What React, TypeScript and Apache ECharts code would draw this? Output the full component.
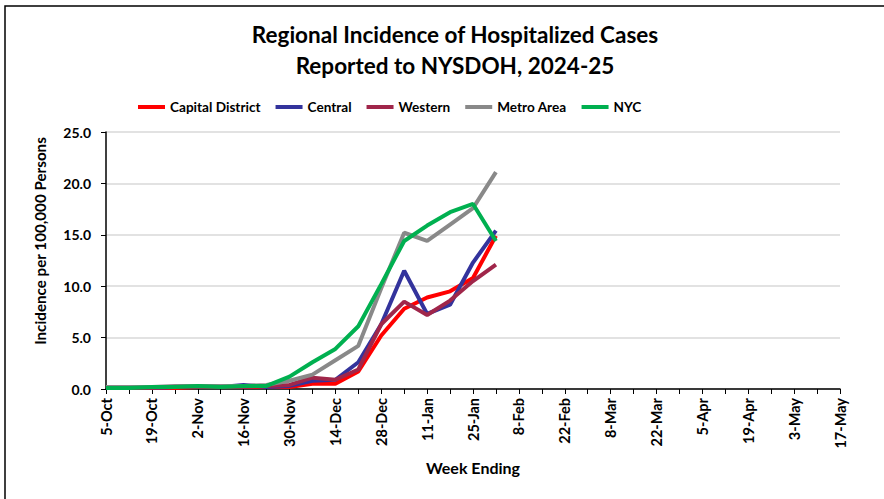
import React, { useEffect, useRef } from "react";
import * as echarts from "echarts";

const weekLabels = [
  "5-Oct", "12-Oct", "19-Oct", "26-Oct", "2-Nov", "9-Nov", "16-Nov", "23-Nov",
  "30-Nov", "7-Dec", "14-Dec", "21-Dec", "28-Dec", "4-Jan", "11-Jan", "18-Jan",
  "25-Jan", "1-Feb", "8-Feb", "15-Feb", "22-Feb", "1-Mar", "8-Mar", "15-Mar",
  "22-Mar", "29-Mar", "5-Apr", "12-Apr", "19-Apr", "26-Apr", "3-May", "10-May", "17-May",
];

const capitalDistrict = [0.1, 0.1, 0.1, 0.1, 0.2, 0.2, 0.2, 0.2, 0.2, 0.5, 0.5, 1.7, 5.2, 7.8, 8.9, 9.5, 10.8, 14.9];
const central = [0.1, 0.1, 0.1, 0.2, 0.2, 0.2, 0.4, 0.2, 0.3, 0.8, 0.9, 2.6, 6.3, 11.5, 7.3, 8.2, 12.3, 15.4];
const western = [0.1, 0.1, 0.1, 0.2, 0.2, 0.2, 0.2, 0.3, 0.4, 1.1, 0.9, 1.9, 6.3, 8.5, 7.2, 8.6, 10.5, 12.1];
const metroArea = [0.2, 0.2, 0.2, 0.3, 0.3, 0.3, 0.3, 0.4, 0.8, 1.4, 2.8, 4.2, 9.8, 15.2, 14.4, 16.0, 17.6, 21.1];
const nyc = [0.1, 0.1, 0.2, 0.2, 0.3, 0.2, 0.3, 0.3, 1.2, 2.6, 3.9, 6.1, 10.2, 14.4, 15.9, 17.2, 18.0, 14.4];

const seriesNames = ["Capital District", "Central", "Western", "Metro Area", "NYC"];
const seriesColors = ["#FF0000", "#33339C", "#A0264A", "#898989", "#00B050"];
const seriesData = [capitalDistrict, central, western, metroArea, nyc];

const FONT = "Lato, 'Open Sans', sans-serif";

export default function App() {
  const ref = useRef<HTMLDivElement>(null);
  useEffect(() => {
    if (!ref.current) return;
    const chart = echarts.init(ref.current, null, { renderer: "svg" });
    chart.setOption({
      animation: false,
      backgroundColor: "#fff",
      textStyle: { fontFamily: FONT },
      title: {
        text: "Regional Incidence of Hospitalized Cases\nReported to NYSDOH, 2024-25",
        left: 450,
        top: 14,
        textAlign: "center",
        textStyle: { fontFamily: FONT, fontWeight: "bold", fontSize: 22.5, lineHeight: 31, color: "#000" },
      },
      legend: {
        top: 95,
        left: 133,
        itemWidth: 27,
        itemHeight: 4,
        itemGap: 15,
        icon: "rect",
        data: seriesNames,
        textStyle: { fontFamily: FONT, fontWeight: "bold", fontSize: 13.6, color: "#000" },
      },
      grid: { left: 106, right: 44, top: 132, bottom: 110, containLabel: false },
      xAxis: {
        type: "category",
        data: weekLabels,
        boundaryGap: false,
        name: "Week Ending",
        nameLocation: "middle",
        nameGap: 70,
        nameTextStyle: { fontFamily: FONT, fontWeight: "bold", fontSize: 16, color: "#000" },
        axisLine: { lineStyle: { color: "#000", width: 1.5 } },
        axisTick: { show: true, interval: 0, length: 5, lineStyle: { color: "#000" } },
        axisLabel: {
          interval: 1,
          rotate: 90,
          margin: 9,
          fontFamily: FONT,
          fontWeight: "bold",
          fontSize: 14.5,
          color: "#000",
        },
        splitLine: { show: false },
      },
      yAxis: {
        type: "value",
        min: 0,
        max: 25,
        interval: 5,
        axisLine: { show: true, lineStyle: { color: "#000", width: 1.5 } },
        axisTick: { show: true, length: 5, lineStyle: { color: "#000" } },
        axisLabel: {
          margin: 15,
          formatter: (v: number) => v.toFixed(1),
          fontFamily: FONT,
          fontWeight: "bold",
          fontSize: 14,
          color: "#000",
        },
        splitLine: { show: true, lineStyle: { color: "#D9D9D9", width: 1.5 } },
      },
      graphic: [
        {
          type: "rect",
          shape: { x: 5, y: 6, width: 1000, height: 700 },
          style: { fill: "none", stroke: "#000", lineWidth: 1.5 },
          silent: true,
        },
        {
          type: "text",
          x: 40,
          y: 241,
          rotation: Math.PI / 2,
          style: {
            text: "Incidence per 100,000 Persons",
            fontFamily: FONT,
            fontWeight: "bold",
            fontSize: 15.2,
            fill: "#000",
            align: "center",
            verticalAlign: "middle",
          },
          silent: true,
        },
      ],
      series: seriesNames.map((name, i) => ({
        name,
        type: "line",
        data: seriesData[i],
        symbol: "none",
        lineStyle: { color: seriesColors[i], width: 4 },
        itemStyle: { color: seriesColors[i] },
      })),
    });
    return () => chart.dispose();
  }, []);
  return <div ref={ref} style={{ width: 884, height: 499, position: "absolute", left: 0, top: 0 }} />;
}
